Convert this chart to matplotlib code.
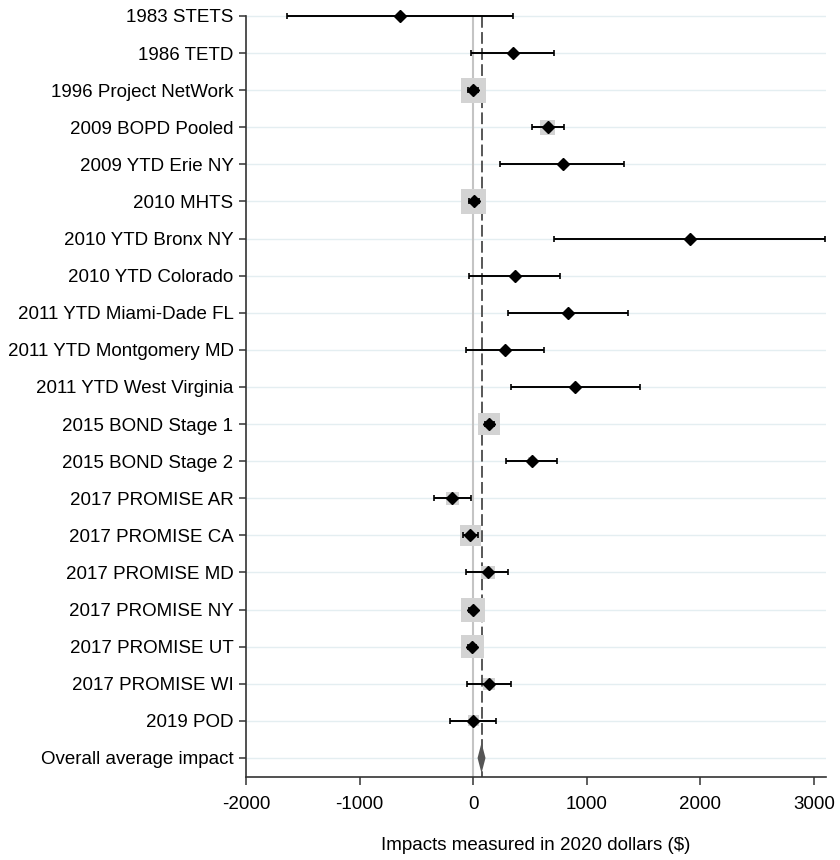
import numpy as np
import matplotlib
matplotlib.use("Agg")
import matplotlib.pyplot as plt

plt.rcParams['font.family'] = ['Liberation Sans', 'DejaVu Sans']

studies = ["1983 STETS", "1986 TETD", "1996 Project NetWork", "2009 BOPD Pooled",
           "2009 YTD Erie NY", "2010 MHTS", "2010 YTD Bronx NY", "2010 YTD Colorado",
           "2011 YTD Miami-Dade FL", "2011 YTD Montgomery MD", "2011 YTD West Virginia",
           "2015 BOND Stage 1", "2015 BOND Stage 2", "2017 PROMISE AR", "2017 PROMISE CA",
           "2017 PROMISE MD", "2017 PROMISE NY", "2017 PROMISE UT", "2017 PROMISE WI",
           "2019 POD"]
effects = [-641, 347, -2, 658, 787, 5, 1912, 364, 833, 277, 897, 141, 513, -185, -26,
           126, -6, -8, 138, 0]
ci_low = [-1639, -20, -45, 520, 240, -40, 708, -37, 310, -67, 334, 100, 287, -343, -94,
          -62, -40, -42, -53, -204]
ci_high = [354, 715, 40, 801, 1327, 50, 3100, 766, 1366, 624, 1464, 182, 736, -21, 38,
           308, 28, 26, 331, 202]
weights = [0.1, 0.5, 10.0, 3.6, 0.3, 10.0, 0.1, 0.5, 0.3, 0.5, 0.3, 7.7, 1.0, 2.7, 7.1,
           3.1, 9.2, 8.5, 2.3, 1.9]
overall_label = "Overall average impact"
overall = 73
overall_low = 38
overall_high = 108
xticks = [-2000, -1000, 0, 1000, 2000, 3000]

W, H = 840, 860
fig = plt.figure(figsize=(W / 100, H / 100), dpi=100)
ax = fig.add_axes([246 / W, 83 / H, 580 / W, 775 / H])

n = len(studies)
rows = np.arange(n)
orow = n
row_px = 37.1
ybot = orow + 19 / row_px
ytop = -14 / row_px
xmin, xmax = -2000, 3105
ax.set_xlim(xmin, xmax)
ax.set_ylim(ybot, ytop)

# grid lines
allrows = np.arange(n + 1)
ax.hlines(allrows, xmin, xmax, color='#e4eef1', lw=1.0, zorder=0)

# reference lines
ax.plot([0, 0], [0, ybot], color='#c4c4c4', lw=1.5, zorder=1, solid_capstyle='butt')
ax.plot([overall, overall], [0, ybot], color='#4a4a4a', lw=1.3, dashes=(6.5, 2.4),
        zorder=1)

# weight boxes
sides_px = 25 * np.sqrt(np.array(weights) / 10.0)
ax.scatter(effects, rows, s=(sides_px * 0.72) ** 2, marker='s', color='#d3d3d3',
           linewidths=0, zorder=2)

# confidence intervals
eff = np.array(effects)
ax.errorbar(eff, rows, xerr=[eff - np.array(ci_low), np.array(ci_high) - eff],
            fmt='none', ecolor='black', elinewidth=1.4, capsize=2.0, capthick=1.2,
            zorder=3)

# point estimates
ax.plot(effects, rows, 'D', color='black', ms=6.6, zorder=4, clip_on=False)

# overall diamond
ax.fill([overall_low, overall, overall_high, overall],
        [orow, orow - 0.41, orow, orow + 0.41], color='#555555', lw=0, zorder=4)

fs = 13.5
ax.set_yticks(list(allrows))
ax.set_yticklabels(studies + [overall_label], fontsize=fs)
ax.set_xticks(xticks)
ax.set_xticklabels([str(v) for v in xticks], fontsize=fs)
ax.tick_params(axis='y', length=5, width=1.1, color='#333333', pad=4)
ax.tick_params(axis='x', length=5.8, width=1.1, color='#333333', pad=8)

for s in ['top', 'right']:
    ax.spines[s].set_visible(False)
for s in ['left', 'bottom']:
    ax.spines[s].set_color('#333333')
    ax.spines[s].set_linewidth(1.2)
ax.spines['left'].set_bounds(0, ybot)

ax.set_xlabel("Impacts measured in 2020 dollars ($)", fontsize=fs, labelpad=17)

fig.savefig("out.png", dpi=100)
